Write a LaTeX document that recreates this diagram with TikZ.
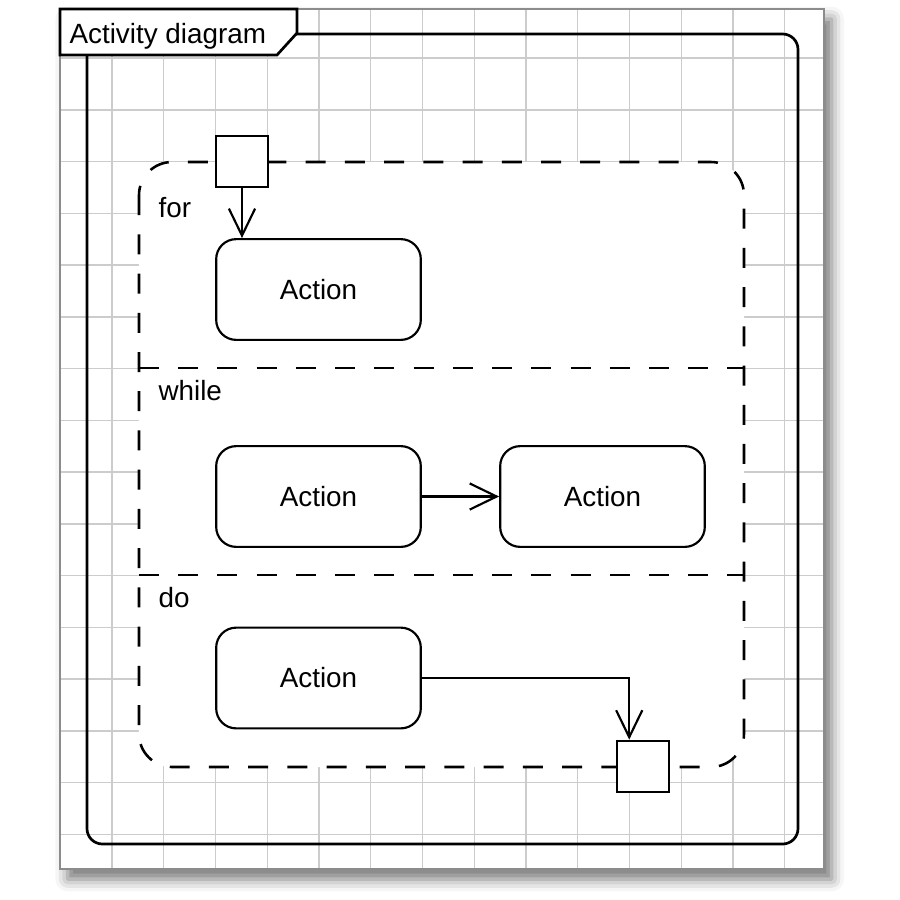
\documentclass[tikz,border=0pt]{standalone}
\usepackage{fontspec}
\setmainfont{Liberation Sans}
\usetikzlibrary{arrows.meta,shadows.blur}

\begin{document}
\begin{tikzpicture}[x=0.13mm,y=-0.13mm,font=\fontsize{10.3}{12}\selectfont]
\tikzstyle{fleche}=[-{Straight Barb[length=3.5mm,width=3.4mm]},line width=0.8pt]
\tikzset{action/.style={draw,line width=0.8pt,rounded corners=2.6mm,fill=white,minimum width=26.6mm,minimum height=13.1mm},
broche/.style={draw,line width=0.8pt,fill=white,minimum size=6.7mm,inner sep=0pt},
zone/.style={line width=0.95pt,dash pattern=on 2.6mm off 2.5mm},
etiquette/.style={anchor=base west,inner sep=0pt}}
\useasboundingbox (0,0) rectangle (900,900);

% fond quadrille
\fill[white,blur shadow={shadow xshift=1mm,shadow yshift=-1.3mm,shadow blur radius=1.6mm,shadow opacity=55}] (60,9) rectangle (824,869);
\foreach \i in {0,...,13} \draw[gray!40,line width=0.55pt] (112+51.75*\i,9) -- (112+51.75*\i,869);
\foreach \j in {0,...,15} \draw[gray!40,line width=0.55pt] (60,58+51.75*\j) -- (824,58+51.75*\j);
\draw[black!45,line width=0.6pt] (60,9) rectangle (824,869);

% cadre
\draw[line width=1pt,rounded corners=2mm] (87,34) rectangle (798,844);
\draw[line width=1pt,fill=white] (60,9) -- (297,9) -- (297,33) -- (277,55) -- (60,55) -- cycle;
\node[etiquette] (titre) at (69,43) {Activity diagram};

% zone de boucle
\draw[zone,fill=white,rounded corners=4.3mm] (139,162) rectangle (744,767);
\draw[zone] (139,368) -- (744,368);
\draw[zone] (139,575) -- (744,575);
\node[etiquette] (pour) at (158,217) {for};
\node[etiquette] (tantque) at (158,400) {while};
\node[etiquette] (faire) at (158,607) {do};

\node[broche] (entree) at (242,161.5) {};
\node[action] (A1) at (318.5,289.5) {Action};
\node[action] (A2) at (318.5,496.5) {Action};
\node[action] (A3) at (602.5,496.5) {Action};
\node[action] (A4) at (318.5,678) {Action};
\node[broche] (sortie) at (643,766.5) {};

\draw[fleche] (entree) -- (entree |- A1.north);
\draw[fleche] (A2) -- (A3);
\draw[fleche] (A4.east) -| ([xshift=1.7mm]sortie.north west);

\end{tikzpicture}
\end{document}
